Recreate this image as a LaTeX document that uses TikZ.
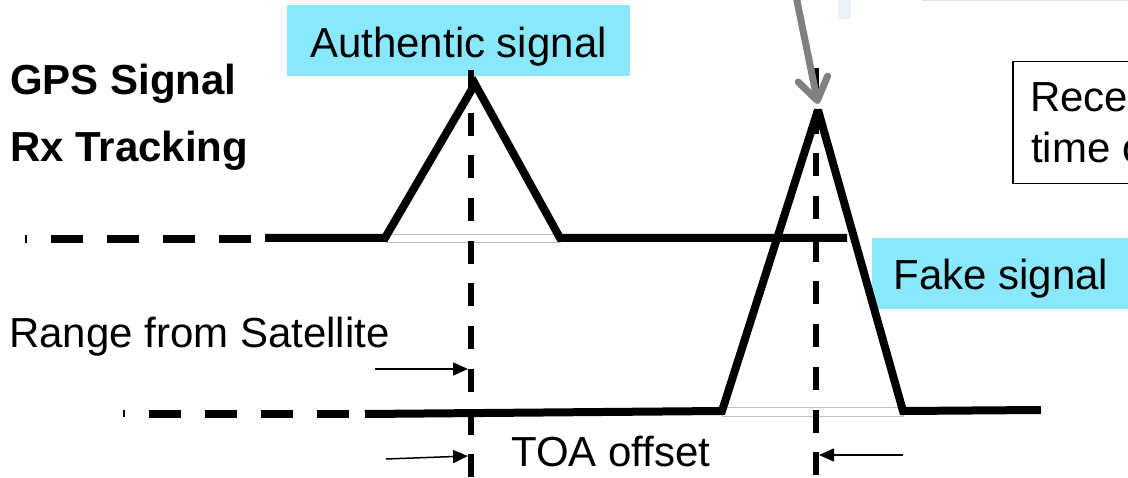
\documentclass[tikz,border=0pt]{standalone}
\usepackage{fontspec}
\setmainfont{Liberation Sans}
\usetikzlibrary{arrows.meta}
\definecolor{lblue}{RGB}{138,232,253}
\definecolor{arrgray}{RGB}{128,128,128}
\definecolor{topgray}{RGB}{236,242,248}
\begin{document}
\begin{tikzpicture}[x=1pt,y=-1pt,
  txt/.style={font=\fontsize{42}{50}\selectfont, inner sep=0pt},
  boldtxt/.style={font=\fontsize{42}{50}\selectfont\bfseries, inner sep=0pt},
  tagbox/.style={txt, fill=lblue, text height=35pt, text depth=2pt, inner xsep=0pt, inner ysep=17pt},
  sig/.style={line width=8pt, line join=miter, miter limit=3},
  sigdash/.style={line width=8pt, dash pattern=on 32pt off 24pt},
  vdash/.style={line width=6.5pt, dash pattern=on 23pt off 19.7pt},
  footrect/.style={draw=black!25, fill=white, line width=0.8pt},
  meas/.style={line width=1.5pt, -{Triangle[length=15pt,width=13pt]}},
  edgetick/.style={line width=2pt},
]
\clip (0,0) rectangle (1128,478);
\fill[white] (0,0) rectangle (1128,478);

% top fragments
\fill[topgray] (838,0) rectangle (851,19);
\draw[black!10, line width=1.5pt] (922,0.7) -- (1128,0.7);

% labels
\node[boldtxt, anchor=base west] (gps) at (10,95) {GPS Signal};
\node[boldtxt, anchor=base west] (rx) at (10,162) {Rx Tracking};
\node[txt, anchor=base west] (range) at (9,348) {Range from Satellite};
\node[txt, anchor=base west] (toa) at (511,467) {TOA offset};

% tags
\node[tagbox, minimum width=343pt] (auth) at (458.5,41) {Authentic signal};
\node[tagbox, minimum width=258pt] (fake) at (1001,273.5) {Fake signal};

% receiver box
\node[draw, line width=1.5pt, minimum width=220pt, minimum height=122pt, anchor=north west, inner sep=0pt] (rxbox) at (1012,61) {};
\node[txt, anchor=base west] (rec1) at (1030,112) {Received};
\node[txt, anchor=base west] (rec2) at (1031,163) {time of};

% coordinates
\coordinate (t0) at (265,238);
\coordinate (tA) at (385,238);
\coordinate (tP) at (475,84);
\coordinate (tB) at (560,238);
\coordinate (t1) at (847,238);
\coordinate (b0) at (365,414);
\coordinate (bA) at (722,411);
\coordinate (bP) at (818,110);
\coordinate (bB) at (903,411);
\coordinate (b1) at (1041,410);

% base footprints
\draw[footrect] (385,234) rectangle (560,242);
\draw[footrect] (722,407.5) rectangle (903,416);

% signals
\draw[edgetick] (26,235) -- (26,243);
\draw[sigdash] (51,239) -- (255,239);
\draw[sig] (t0) -- (tA) -- (tP) -- (tB) -- (t1);
\draw[edgetick] (124,410) -- (124,417);
\draw[sigdash] (149,414) -- (355,414);
\draw[sig] (b0) -- (bA) -- (bP) -- (bB) -- (b1);

% vertical dashed markers
\coordinate (v1t) at (471,70);
\coordinate (v1b) at (471,478);
\coordinate (v2t) at (816,68);
\coordinate (v2b) at (816,478);
\draw[vdash] (v1t) -- (v1b);
\draw[vdash] (v2t) -- (v2b);

% measurement arrows
\coordinate (r0) at (375,369);
\coordinate (r1) at (468,369);
\coordinate (l0) at (386,459);
\coordinate (l1) at (468,456);
\coordinate (q0) at (903,455);
\coordinate (q1) at (819,455);
\draw[meas] (r0) -- (r1);
\draw[meas] (l0) -- (l1);
\draw[meas] (q0) -- (q1);

% gray pointer
\coordinate (g0) at (796,-4);
\coordinate (g1) at (818,104);
\draw[line width=7pt, arrgray, line cap=round, -{Straight Barb[length=22pt,width=30pt,round]}] (g0) -- (g1);
\end{tikzpicture}
\end{document}
